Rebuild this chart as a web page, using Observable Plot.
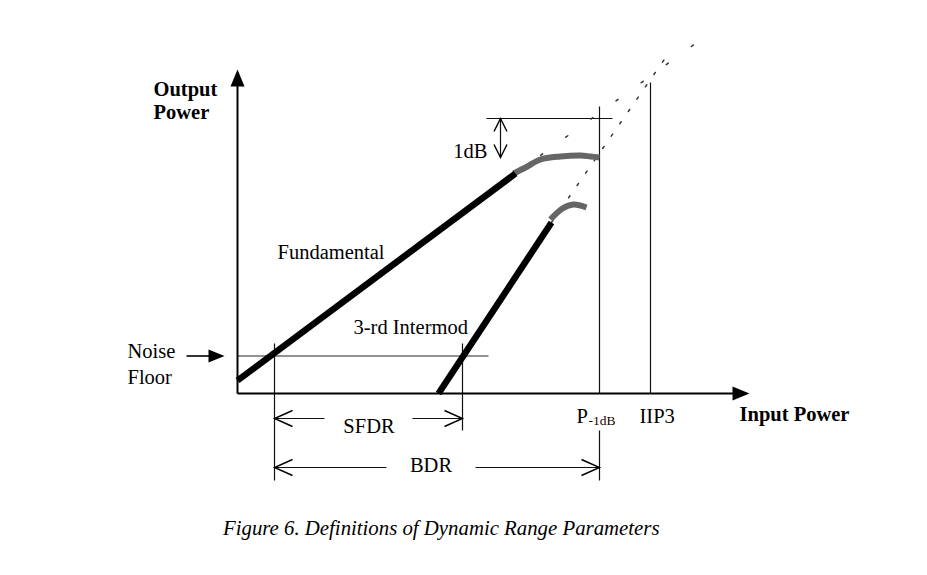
<!DOCTYPE html>
<html><head><meta charset="utf-8">
<script src="https://cdn.jsdelivr.net/npm/d3@7"></script>
<script src="https://cdn.jsdelivr.net/npm/@observablehq/plot@0.6"></script>
<style>
body{margin:0;background:#fff;}
#chart svg{display:block;}
#cap{font-family:"Liberation Serif","Times New Roman",serif;font-style:italic;font-size:20.8px;line-height:24px;margin:11px 0 0 223px;color:#000;white-space:nowrap;}
</style></head><body>
<div id="chart"></div>
<div id="cap"></div>
<script>
// Coordinates are in the diagram's own units: x = input power, y = output power,
// with the origin at the corner of the two axes.

// Response curves
const fundamentalLinear = [[0, 13], [278, 220]];
const fundamentalCompressed = [[276, 220], [288, 226], [303, 234], [323, 237], [343, 238], [353, 237], [362, 236]];
const fundamentalExtrapolated = [[278, 220], [458, 350]];
const intermodLinear = [[201, 0], [314, 171]];
const intermodCompressed = [[313, 174], [325, 185], [336, 189], [349, 186]];
const intermodExtrapolated = [[314, 171], [433, 343]];

// Reference levels
const noiseFloor = 37.5;
const noiseFloorExtent = [0, 251];
const p1dB = 362;
const iip3 = 413;
const oneDbLevel = 275;
const oneDbExtent = [249, 375];
const oneDbArrow = {x: 263, y1: 275, y2: 236};

// Axes
const xAxisEnd = 512;
const yAxisEnd = 324;

// Range markers
const sfdrStart = 37, sfdrEnd = 225, sfdrLevel = -25;
const bdrStart = 37, bdrEnd = 362, bdrLevel = -74;
const sfdrGap = [87, 175];
const bdrGap = [149, 238];

// Vertical guide segments
const guides = [
  {x: p1dB, y1: 0, y2: 287},
  {x: p1dB, y1: -37, y2: -87},
  {x: iip3, y1: 0, y2: 311},
  {x: sfdrStart, y1: 50, y2: -87},
  {x: sfdrEnd, y1: 50, y2: -37}
];

// Labels
const labels = [
  {x: 40, y: 135, text: "Fundamental", anchor: "start", bold: false},
  {x: 116, y: 60, text: "3-rd Intermod", anchor: "start", bold: false},
  {x: -110, y: 36, text: "Noise", anchor: "start", bold: false},
  {x: -110, y: 10, text: "Floor", anchor: "start", bold: false},
  {x: 250, y: 236, text: "1dB", anchor: "end", bold: false},
  {x: 131.5, y: -39, text: "SFDR", anchor: "middle", bold: false},
  {x: 193.5, y: -78, text: "BDR", anchor: "middle", bold: false},
  {x: 339, y: -29, text: "P", anchor: "start", bold: false},
  {x: 402, y: -29, text: "IIP3", anchor: "start", bold: false},
  {x: -84, y: 298, text: "Output", anchor: "start", bold: true},
  {x: -84, y: 275, text: "Power", anchor: "start", bold: true},
  {x: 502, y: -27, text: "Input Power", anchor: "start", bold: true}
];
const subscripts = [{x: 351, y: -31, text: "-1dB"}];
const caption = "Figure 6. Definitions of Dynamic Range Parameters";

// ---- derived mark data ----
const axisSegs = [
  {x1: 0, y1: 0, x2: xAxisEnd - 16, y2: 0},
  {x1: 0, y1: 0, x2: 0, y2: yAxisEnd - 16}
];
const filledHeads = [
  {x: xAxisEnd, y: 0, r: 0},
  {x: 0, y: yAxisEnd, r: -90},
  {x: -13, y: noiseFloor, r: 0}
];
const noiseArrowShaft = [{x1: -51, y1: noiseFloor, x2: -24, y2: noiseFloor}];
const thinSegs = [
  {x1: oneDbExtent[0], y1: oneDbLevel, x2: oneDbExtent[1], y2: oneDbLevel},
  {x1: oneDbArrow.x, y1: oneDbArrow.y1, x2: oneDbArrow.x, y2: oneDbArrow.y2},
  {x1: sfdrStart, y1: sfdrLevel, x2: sfdrGap[0], y2: sfdrLevel},
  {x1: sfdrGap[1], y1: sfdrLevel, x2: sfdrEnd, y2: sfdrLevel},
  {x1: bdrStart, y1: bdrLevel, x2: bdrGap[0], y2: bdrLevel},
  {x1: bdrGap[1], y1: bdrLevel, x2: bdrEnd, y2: bdrLevel},
  ...guides.map(g => ({x1: g.x, y1: g.y1, x2: g.x, y2: g.y2}))
];
const rangeHeads = [
  {x: sfdrStart, y: sfdrLevel, r: 180},
  {x: sfdrEnd, y: sfdrLevel, r: 0},
  {x: bdrStart, y: bdrLevel, r: 180},
  {x: bdrEnd, y: bdrLevel, r: 0}
];
const dbHeads = [
  {x: oneDbArrow.x, y: oneDbArrow.y1, r: -90},
  {x: oneDbArrow.x, y: oneDbArrow.y2, r: 90}
];

function filledHead(len, half) {
  return {draw(ctx) { ctx.moveTo(0, 0); ctx.lineTo(-len, -half); ctx.lineTo(-len, half); ctx.closePath(); }};
}
function openHead(len, half) {
  return {draw(ctx) { ctx.moveTo(-len, -half); ctx.lineTo(0, 0); ctx.lineTo(-len, half); }};
}

const serif = "Liberation Serif, Times New Roman, serif";
const textMarks = [];
for (const anchor of ["start", "middle", "end"]) {
  for (const bold of [false, true]) {
    const subset = labels.filter(d => d.anchor === anchor && d.bold === bold);
    if (subset.length) textMarks.push(Plot.text(subset, {
      x: "x", y: "y", text: "text", textAnchor: anchor, lineAnchor: "bottom",
      fontFamily: serif, fontSize: 20.5, fontWeight: bold ? "bold" : "normal", fill: "#000"
    }));
  }
}

const chart = Plot.plot({
  width: 927,
  height: 505,
  marginLeft: 0, marginRight: 0, marginTop: 0, marginBottom: 0,
  x: {domain: [-237, 690], axis: null},
  y: {domain: [-112, 393], axis: null},
  style: {background: "#fff"},
  marks: [
    // noise floor
    Plot.link([{x1: noiseFloorExtent[0], x2: noiseFloorExtent[1]}], {x1: "x1", x2: "x2", y1: noiseFloor, y2: noiseFloor, stroke: "#6e6e6e", strokeWidth: 1.4}),
    // thin guide lines
    Plot.link(thinSegs, {x1: "x1", y1: "y1", x2: "x2", y2: "y2", stroke: "#111", strokeWidth: 1.2}),
    // axes
    Plot.link(axisSegs, {x1: "x1", y1: "y1", x2: "x2", y2: "y2", stroke: "#000", strokeWidth: 2}),
    Plot.link(noiseArrowShaft, {x1: "x1", y1: "y1", x2: "x2", y2: "y2", stroke: "#000", strokeWidth: 1.6}),
    Plot.dot(filledHeads.slice(0, 2), {x: "x", y: "y", rotate: "r", symbol: filledHead(17, 7), fill: "#000", stroke: "none"}),
    Plot.dot(filledHeads.slice(2), {x: "x", y: "y", rotate: "r", symbol: filledHead(16, 6.5), fill: "#000", stroke: "none"}),
    // open arrowheads
    Plot.dot(rangeHeads, {x: "x", y: "y", rotate: "r", symbol: openHead(18, 8), fill: "none", stroke: "#000", strokeWidth: 1.4}),
    Plot.dot(dbHeads, {x: "x", y: "y", rotate: "r", symbol: openHead(13, 6.5), fill: "none", stroke: "#000", strokeWidth: 1.4}),
    // extrapolations
    Plot.line(fundamentalExtrapolated, {stroke: "#333", strokeWidth: 1.5, strokeDasharray: "2.5,28.5"}),
    Plot.line(intermodExtrapolated, {stroke: "#333", strokeWidth: 1.5, strokeDasharray: "2.5,12.5"}),
    // curves
    Plot.line(fundamentalCompressed, {stroke: "#666", strokeWidth: 6, curve: "catmull-rom", strokeLinecap: "butt"}),
    Plot.line(intermodCompressed, {stroke: "#666", strokeWidth: 6, curve: "catmull-rom", strokeLinecap: "butt"}),
    Plot.line(fundamentalLinear, {stroke: "#000", strokeWidth: 6.5, strokeLinecap: "butt"}),
    Plot.line(intermodLinear, {stroke: "#000", strokeWidth: 6.5, strokeLinecap: "butt"}),
    // labels
    ...textMarks,
    Plot.text(subscripts, {x: "x", y: "y", text: "text", textAnchor: "start", lineAnchor: "bottom", fontFamily: serif, fontSize: 13.5, fill: "#1a0000"})
  ]
});
document.getElementById("chart").appendChild(chart);
document.getElementById("cap").textContent = caption;
</script>
</body></html>
